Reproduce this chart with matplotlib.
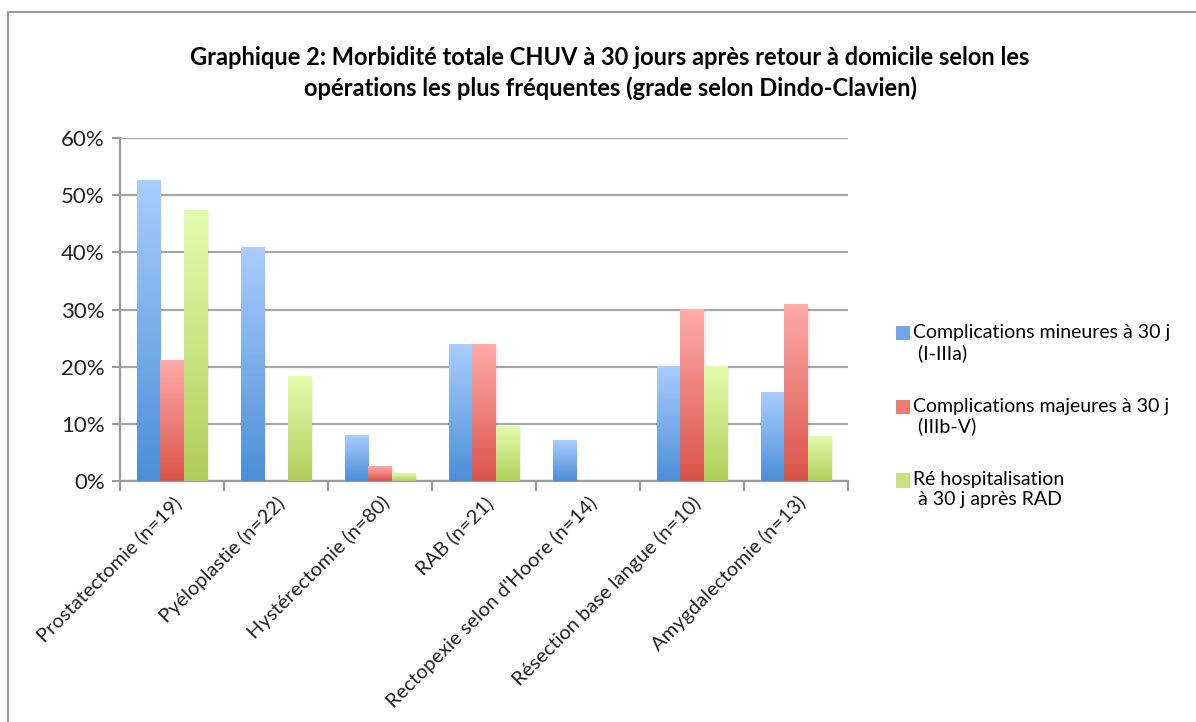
import numpy as np
import matplotlib
matplotlib.use("Agg")
import matplotlib.pyplot as plt
from matplotlib.patches import Rectangle, Patch
from matplotlib.colors import LinearSegmentedColormap
from matplotlib.legend_handler import HandlerPatch

plt.rcParams['font.family'] = ['Lato', 'DejaVu Sans']

# données (en %)
operations = ["Prostatectomie (n=19)", "Pyéloplastie (n=22)", "Hystérectomie (n=80)",
              "RAB (n=21)", "Rectopexie selon d'Hoore (n=14)",
              "Résection base langue (n=10)", "Amygdalectomie (n=13)"]
mineures = [52.6, 40.9, 8.0, 23.8, 7.1, 20.0, 15.4]
majeures = [21.1, 0.0, 2.5, 23.8, 0.0, 30.0, 30.8]
rehospit = [47.4, 18.2, 1.25, 9.5, 0.0, 20.0, 7.7]

series_labels = ["Complications mineures à 30 j\n (I-IIIa)",
                 "Complications majeures à 30 j\n (IIIb-V)",
                 "Ré hospitalisation\n à 30 j après RAD"]
# couleurs (haut clair, bas foncé) pour le dégradé
gradients = [("#aacdfe", "#4b8fd7"), ("#ffabaa", "#da534a"), ("#e3fcad", "#afcf5a")]
legend_colors = ["#6ea6e8", "#ef7a74", "#c8e27f"]


class TopHandler(HandlerPatch):
    # carré de légende aligné sur la première ligne du texte
    def create_artists(self, legend, orig_handle, xdescent, ydescent, width, height,
                       fontsize, trans):
        p = Rectangle((-xdescent, -ydescent + 0.5 * fontsize), width, height,
                      facecolor=orig_handle.get_facecolor(), edgecolor="none", transform=trans)
        return [p]


fig = plt.figure(figsize=(11.96, 7.22), dpi=100)
ax = fig.add_axes([120 / 1196, 1 - 481 / 722, 728 / 1196, 343 / 722])

# cadre extérieur
fig.patches.append(Rectangle((8 / 1196, -0.1), 1.2, 1.1 - 12 / 722, transform=fig.transFigure,
                             fill=False, edgecolor="#9a9a9a", lw=1.5, zorder=0))

x = np.arange(len(operations))
w = 0.226
grad = np.linspace(0, 1, 256).reshape(-1, 1)
for i, vals in enumerate([mineures, majeures, rehospit]):
    cmap = LinearSegmentedColormap.from_list("g%d" % i, [gradients[i][1], gradients[i][0]])
    bars = ax.bar(x + (i - 1) * w, vals, w, color="none", edgecolor="none", zorder=3)
    for b in bars:
        h = b.get_height()
        if h <= 0:
            continue
        x0 = b.get_x()
        # petite ombre à droite
        ax.add_patch(Rectangle((x0 + 0.02, 0), b.get_width(), h - 0.3, facecolor="#000000",
                               alpha=0.06, edgecolor="none", zorder=2))
        ax.imshow(grad, cmap=cmap, origin="lower", aspect="auto",
                  extent=[x0, x0 + b.get_width(), 0, h], zorder=3)

ax.set_xlim(-0.5, len(operations) - 0.5)
ax.set_ylim(0, 60)
ax.set_aspect("auto")

ax.set_yticks(np.arange(0, 61, 10))
ax.set_yticklabels(["%d%%" % v for v in range(0, 61, 10)], fontsize=16, color="#222222")
ax.yaxis.grid(True, color="#a6a6a6", lw=1.6, zorder=0)
ax.set_axisbelow(True)

ax.set_xticks(x)
ax.set_xticklabels(operations, rotation=45, ha="right", rotation_mode="anchor",
                   fontsize=14.5, color="#222222")
ax.set_xticks(np.arange(-0.5, len(operations)), minor=True)
ax.tick_params(axis="x", which="major", length=0, pad=9)
ax.tick_params(axis="x", which="minor", length=7, width=1.5, color="#9a9a9a", direction="out")
ax.tick_params(axis="y", length=6, width=1.5, color="#9a9a9a", pad=5)

for s in ["top", "right"]:
    ax.spines[s].set_visible(False)
for s in ["left", "bottom"]:
    ax.spines[s].set_color("#9a9a9a")
    ax.spines[s].set_linewidth(1.6)

fig.text(610 / 1196, 1 - 73 / 722,
         "Graphique 2: Morbidité totale CHUV à 30 jours après retour à domicile selon les\n"
         "opérations les plus fréquentes (grade selon Dindo-Clavien)",
         ha="center", va="center", fontsize=17, fontweight="bold", linespacing=1.35)

handles = [Patch(facecolor=c, edgecolor="none") for c in legend_colors]
fig.legend(handles, series_labels, loc="upper left", bbox_to_anchor=(888 / 1196, 1 - 316 / 722),
           frameon=False, fontsize=14, handlelength=0.75, handleheight=0.75, handletextpad=0.15,
           labelspacing=1.85, borderaxespad=0, handler_map={Patch: TopHandler()})

fig.savefig("out.png", dpi=100)
